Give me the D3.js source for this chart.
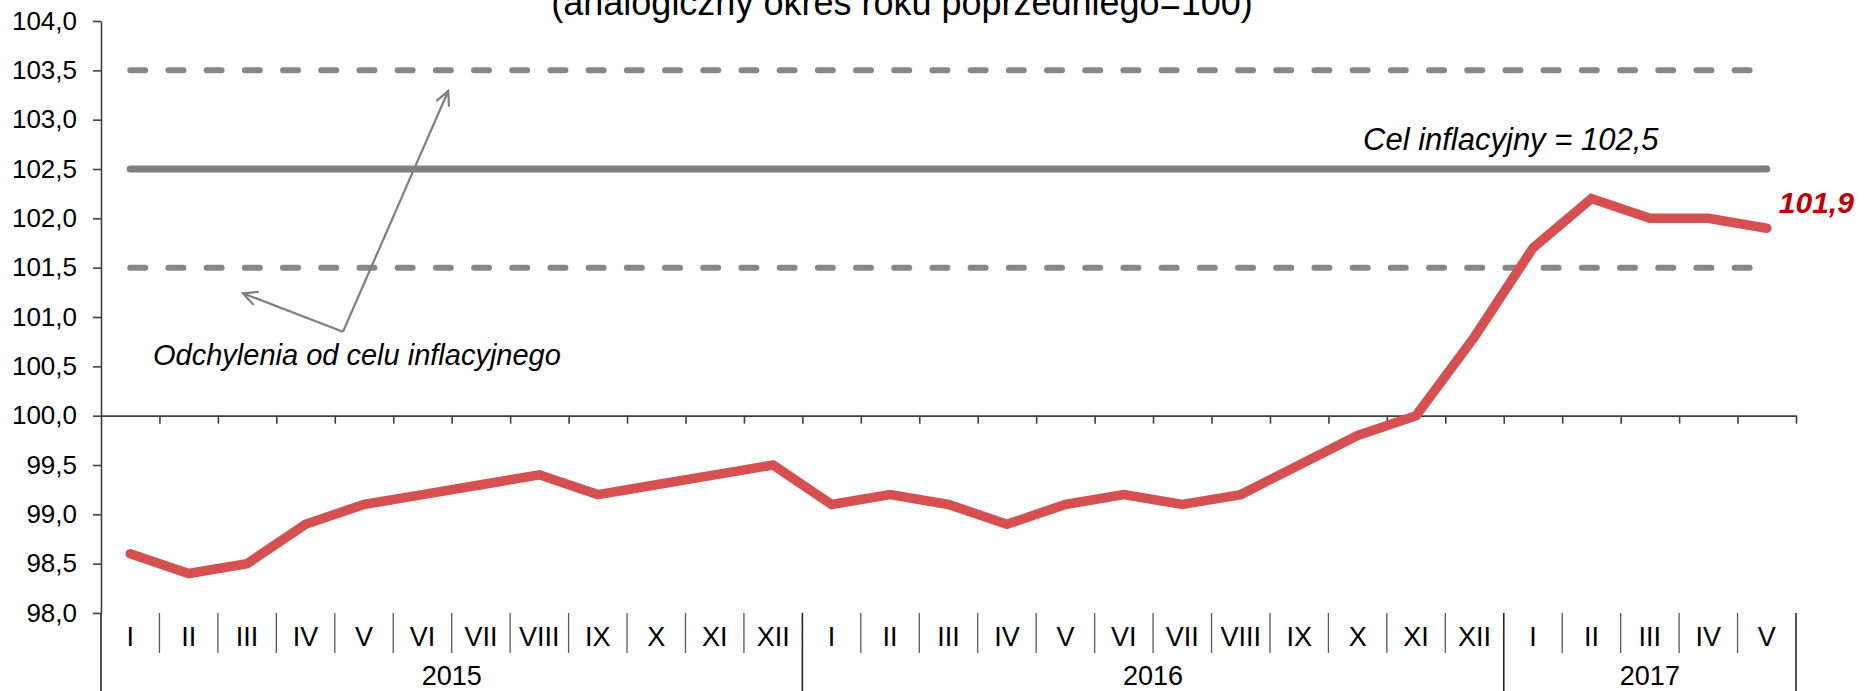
<!doctype html>
<html lang="pl">
<head>
<meta charset="utf-8">
<title>Inflacja CPI</title>
<script src="https://d3js.org/d3.v7.min.js"></script>
<style>
  body { margin: 0; background: #fff; }
  svg text { font-family: Arial, "Liberation Sans", Helvetica, sans-serif; fill: #000; }
  .axis_y text { font-size: 26px; }
  .axis_y path, .axis_y line { stroke: #404040; stroke-width: 1.6px; }
  .axis_x path, .axis_x line { stroke: #404040; stroke-width: 1.6px; }
</style>
</head>
<body>
<svg id="main" width="1866" height="691"></svg>
<script>
// months shown on the category axis
let months = ['I','II','III','IV','V','VI','VII','VIII','IX','X','XI','XII',
              'I','II','III','IV','V','VI','VII','VIII','IX','X','XI','XII',
              'I','II','III','IV','V'];
let years = ['2015', '2016', '2017'];
let year_months = [12, 12, 5];

// CPI, same period of previous year = 100
let cpi = [98.6, 98.4, 98.5, 98.9, 99.1, 99.2, 99.3, 99.4, 99.2, 99.3, 99.4, 99.5,
           99.1, 99.2, 99.1, 98.9, 99.1, 99.2, 99.1, 99.2, 99.5, 99.8, 100.0, 100.8,
           101.7, 102.2, 102.0, 102.0, 101.9];

let target = 102.5;
let band = [101.5, 103.5];
let y_ticks = [98, 98.5, 99, 99.5, 100, 100.5, 101, 101.5, 102, 102.5, 103, 103.5, 104];

// annotation arrows, in (month position, value) units
let arrow_start = [3.64, 100.85];
let arrow_tips = [[5.44, 103.29], [1.93, 101.24]];

let svg = d3.select('#main');
let x_range = [101, 1796];
let x_band = d3.scaleBand().domain(d3.range(months.length)).range(x_range).padding(0);
let x_pos = d3.scaleLinear().domain([0, months.length]).range(x_range); // boundaries / free positions
let y_scale = d3.scaleLinear().domain([98, 104]).range([613, 21]);
let fmt = d => d.toFixed(1).replace('.', ',');
let cx = i => x_band(i) + x_band.bandwidth() / 2;
let bottom = 691;

// title (cut at the top edge like the original)
svg.append('text')
    .attr('x', 902).attr('y', 15)
    .attr('text-anchor', 'middle')
    .attr('font-size', 36)
    .text('(analogiczny okres roku poprzedniego=100)');

// y axis
svg.append('g')
    .attr('class', 'axis_y')
    .attr('transform', 'translate(' + x_range[0] + ',0)')
    .call(d3.axisLeft(y_scale).tickValues(y_ticks).tickFormat(fmt)
        .tickSize(8).tickSizeOuter(0).tickPadding(16));

// x axis drawn at 100
svg.append('g')
    .attr('class', 'axis_x')
    .attr('transform', 'translate(0,' + y_scale(100) + ')')
    .call(d3.axisBottom(x_pos).tickValues(d3.range(1, months.length + 1))
        .tickFormat('').tickSize(8).tickSizeOuter(0));

// month separators and labels under the plot
let year_bounds = [0];
year_months.forEach((n, i) => year_bounds.push(year_bounds[i] + n));
let month_bounds = d3.range(1, months.length).filter(b => year_bounds.indexOf(b) < 0);

svg.append('g').selectAll('line').data(month_bounds).join('line')
    .attr('x1', d => x_pos(d)).attr('x2', d => x_pos(d))
    .attr('y1', y_scale(98)).attr('y2', 653)
    .attr('stroke', '#595959').attr('stroke-width', 1.3);

svg.append('g').selectAll('line').data(year_bounds).join('line')
    .attr('x1', d => x_pos(d)).attr('x2', d => x_pos(d))
    .attr('y1', y_scale(98)).attr('y2', bottom)
    .attr('stroke', '#262626').attr('stroke-width', 1.6);

svg.append('g').selectAll('text').data(months).join('text')
    .attr('x', (d, i) => cx(i)).attr('y', 646)
    .attr('text-anchor', 'middle').attr('font-size', 27)
    .text(d => d);

svg.append('g').selectAll('text').data(years).join('text')
    .attr('x', (d, i) => (x_pos(year_bounds[i]) + x_pos(year_bounds[i + 1])) / 2)
    .attr('y', 685)
    .attr('text-anchor', 'middle').attr('font-size', 27)
    .text(d => d);

// target and tolerance band
let x0 = cx(0), x1 = cx(months.length - 1);
svg.append('line')
    .attr('x1', x0).attr('x2', x1)
    .attr('y1', y_scale(target)).attr('y2', y_scale(target))
    .attr('stroke', '#808080').attr('stroke-width', 7).attr('stroke-linecap', 'round');

svg.append('g').selectAll('line').data(band).join('line')
    .attr('x1', x0).attr('x2', x1)
    .attr('y1', d => y_scale(d)).attr('y2', d => y_scale(d))
    .attr('stroke', '#878787').attr('stroke-width', 6)
    .attr('stroke-linecap', 'round').attr('stroke-dasharray', '15 23.2');

// arrows
let defs = svg.append('defs');
defs.append('marker')
    .attr('id', 'arr').attr('viewBox', '0 0 20 20')
    .attr('refX', 18).attr('refY', 10)
    .attr('markerWidth', 20).attr('markerHeight', 20)
    .attr('markerUnits', 'userSpaceOnUse')
    .attr('orient', 'auto')
    .append('path').attr('d', 'M4,3 L18,10 L4,17')
    .attr('fill', 'none').attr('stroke', '#808080').attr('stroke-width', 2.2);

svg.append('g').selectAll('line').data(arrow_tips).join('line')
    .attr('x1', x_pos(arrow_start[0] + 0.5)).attr('y1', y_scale(arrow_start[1]))
    .attr('x2', d => x_pos(d[0] + 0.5)).attr('y2', d => y_scale(d[1]))
    .attr('stroke', '#808080').attr('stroke-width', 2.2)
    .attr('marker-end', 'url(#arr)');

svg.append('text')
    .attr('x', 153).attr('y', 365)
    .attr('font-size', 29).attr('font-style', 'italic')
    .text('Odchylenia od celu inflacyjnego');

svg.append('text')
    .attr('x', 1363).attr('y', 150)
    .attr('font-size', 31).attr('font-style', 'italic')
    .text('Cel inflacyjny = ' + fmt(target));

// CPI line
let line = d3.line().x((d, i) => cx(i)).y(d => y_scale(d));
svg.append('path')
    .datum(cpi)
    .attr('d', line)
    .attr('fill', 'none')
    .attr('stroke', '#d64f51')
    .attr('stroke-width', 9.5)
    .attr('stroke-linejoin', 'miter')
    .attr('stroke-linecap', 'round');

// last value label
svg.append('text')
    .attr('x', cx(cpi.length - 1) + 12).attr('y', 213)
    .attr('font-size', 30).attr('font-weight', 'bold').attr('font-style', 'italic')
    .style('fill', '#c00000')
    .text(fmt(cpi[cpi.length - 1]));
</script>
</body>
</html>
